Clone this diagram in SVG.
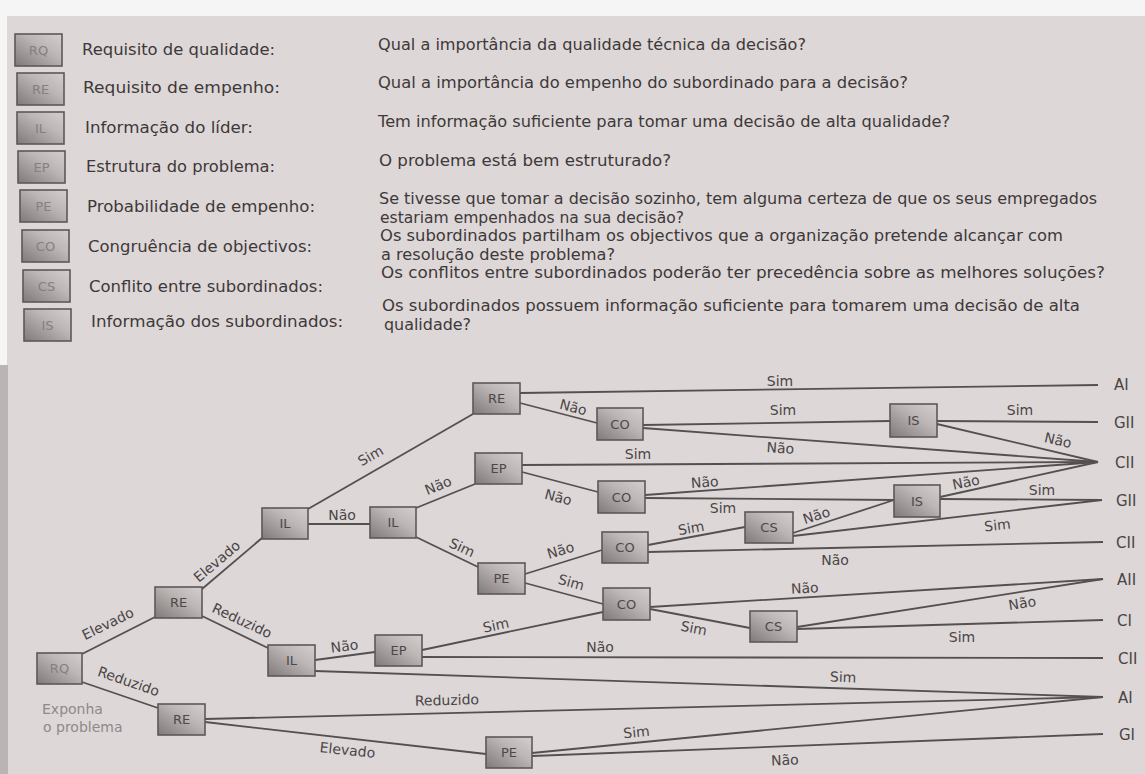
<svg xmlns="http://www.w3.org/2000/svg" width="1145" height="774" viewBox="0 0 1145 774">
<defs>
<linearGradient id="boxg" x1="0" y1="1" x2="1" y2="0">
<stop offset="0" stop-color="#7f7979"/>
<stop offset="0.6" stop-color="#bcb6b6"/>
<stop offset="1" stop-color="#d4cece"/>
</linearGradient>
<style>
.bx{fill:url(#boxg);stroke:#5e5858;stroke-width:1.6}
.bt{font-family:"DejaVu Sans","Liberation Sans",sans-serif;font-size:13px;fill:#4e4848;text-anchor:middle}
.lbt{font-family:"DejaVu Sans","Liberation Sans",sans-serif;font-size:13px;fill:#868080;text-anchor:middle}
.lg{font-family:"DejaVu Sans","Liberation Sans",sans-serif;font-size:15px;fill:#3e3939}
.ln{stroke:#555050;stroke-width:1.8;fill:none}
.el{font-family:"DejaVu Sans","Liberation Sans",sans-serif;font-size:14px;fill:#4a4545;text-anchor:middle}
.oc{font-family:"DejaVu Sans","Liberation Sans",sans-serif;font-size:15px;fill:#4a4545}
.fa{font-family:"DejaVu Sans","Liberation Sans",sans-serif;font-size:14px;fill:#8f8989}
</style>
</defs>
<rect x="0" y="0" width="1145" height="774" fill="#ddd7d8"/>
<rect x="0" y="0" width="1145" height="16" fill="#f6f5f5"/>
<rect x="0" y="0" width="7" height="365" fill="#f6f5f5"/>
<rect x="0" y="365" width="8" height="409" fill="#bab4b5"/>

<g id="legend">
<g id="leg-RQ"><rect class="bx" x="15" y="34" width="47" height="32"/><text class="lbt" x="38.5" y="55">RQ</text></g>
<g id="leg-RE"><rect class="bx" x="17" y="73" width="47" height="32"/><text class="lbt" x="40.5" y="94">RE</text></g>
<g id="leg-IL"><rect class="bx" x="17" y="112" width="47" height="32"/><text class="lbt" x="40.5" y="133">IL</text></g>
<g id="leg-EP"><rect class="bx" x="18" y="151" width="47" height="32"/><text class="lbt" x="41.5" y="172">EP</text></g>
<g id="leg-PE"><rect class="bx" x="20" y="190" width="47" height="32"/><text class="lbt" x="43.5" y="211">PE</text></g>
<g id="leg-CO"><rect class="bx" x="22" y="230" width="47" height="32"/><text class="lbt" x="45.5" y="251">CO</text></g>
<g id="leg-CS"><rect class="bx" x="23" y="270" width="47" height="32"/><text class="lbt" x="46.5" y="291">CS</text></g>
<g id="leg-IS"><rect class="bx" x="24" y="309" width="47" height="32"/><text class="lbt" x="47.5" y="330">IS</text></g>

<text class="lg" x="82" y="55" textLength="193" lengthAdjust="spacingAndGlyphs">Requisito de qualidade:</text>
<text class="lg" x="83" y="93" textLength="197" lengthAdjust="spacingAndGlyphs">Requisito de empenho:</text>
<text class="lg" x="85" y="133" textLength="168" lengthAdjust="spacingAndGlyphs">Informação do líder:</text>
<text class="lg" x="86" y="172" textLength="189" lengthAdjust="spacingAndGlyphs">Estrutura do problema:</text>
<text class="lg" x="87" y="212" textLength="228" lengthAdjust="spacingAndGlyphs">Probabilidade de empenho:</text>
<text class="lg" x="88" y="252" textLength="224" lengthAdjust="spacingAndGlyphs">Congruência de objectivos:</text>
<text class="lg" x="89" y="292" textLength="234" lengthAdjust="spacingAndGlyphs">Conflito entre subordinados:</text>
<text class="lg" x="91" y="327" textLength="252" lengthAdjust="spacingAndGlyphs">Informação dos subordinados:</text>

<text class="lg" x="378" y="50" textLength="428" lengthAdjust="spacingAndGlyphs">Qual a importância da qualidade técnica da decisão?</text>
<text class="lg" x="378" y="88" textLength="530" lengthAdjust="spacingAndGlyphs">Qual a importância do empenho do subordinado para a decisão?</text>
<text class="lg" x="378" y="127" textLength="572" lengthAdjust="spacingAndGlyphs">Tem informação suficiente para tomar uma decisão de alta qualidade?</text>
<text class="lg" x="379" y="166" textLength="292" lengthAdjust="spacingAndGlyphs">O problema está bem estruturado?</text>
<text class="lg" x="379" y="204" textLength="718" lengthAdjust="spacingAndGlyphs">Se tivesse que tomar a decisão sozinho, tem alguma certeza de que os seus empregados</text>
<text class="lg" x="380" y="222.5" textLength="304" lengthAdjust="spacingAndGlyphs">estariam empenhados na sua decisão?</text>
<text class="lg" x="380" y="241" textLength="683" lengthAdjust="spacingAndGlyphs">Os subordinados partilham os objectivos que a organização pretende alcançar com</text>
<text class="lg" x="381" y="259.5" textLength="234" lengthAdjust="spacingAndGlyphs">a resolução deste problema?</text>
<text class="lg" x="381" y="278" textLength="724" lengthAdjust="spacingAndGlyphs">Os conflitos entre subordinados poderão ter precedência sobre as melhores soluções?</text>
<text class="lg" x="382" y="311" textLength="698" lengthAdjust="spacingAndGlyphs">Os subordinados possuem informação suficiente para tomarem uma decisão de alta</text>
<text class="lg" x="384" y="329.5" textLength="87" lengthAdjust="spacingAndGlyphs">qualidade?</text>
</g>

<g id="connectors">
<line class="ln" x1="82" y1="654" x2="155" y2="617"/>
<line class="ln" x1="82" y1="682" x2="158" y2="708"/>
<line class="ln" x1="202" y1="589" x2="262" y2="538"/>
<line class="ln" x1="202" y1="616" x2="268" y2="648"/>
<line class="ln" x1="308" y1="509" x2="473" y2="414"/>
<line class="ln" x1="308" y1="524" x2="370" y2="524"/>
<line class="ln" x1="416" y1="508" x2="475" y2="484"/>
<line class="ln" x1="416" y1="537" x2="478" y2="567"/>
<line class="ln" x1="315" y1="660" x2="375" y2="652"/>
<line class="ln" x1="315" y1="671" x2="1103" y2="697"/>
<line class="ln" x1="205" y1="719" x2="1103" y2="697"/>
<line class="ln" x1="205" y1="722" x2="486" y2="754"/>
<line class="ln" x1="532" y1="753" x2="1103" y2="697"/>
<line class="ln" x1="532" y1="756" x2="1103" y2="734"/>
<line class="ln" x1="422" y1="650" x2="603" y2="612"/>
<line class="ln" x1="422" y1="657" x2="1103" y2="658"/>
<line class="ln" x1="520" y1="393" x2="1098" y2="385"/>
<line class="ln" x1="520" y1="403" x2="597" y2="423"/>
<line class="ln" x1="643" y1="425" x2="890" y2="421"/>
<line class="ln" x1="643" y1="428" x2="1098" y2="462"/>
<line class="ln" x1="937" y1="421" x2="1098" y2="422"/>
<line class="ln" x1="937" y1="424" x2="1098" y2="462"/>
<line class="ln" x1="522" y1="465" x2="1098" y2="462"/>
<line class="ln" x1="522" y1="472" x2="598" y2="492"/>
<line class="ln" x1="645" y1="495" x2="1098" y2="462"/>
<line class="ln" x1="645" y1="498" x2="894" y2="500"/>
<line class="ln" x1="525" y1="574" x2="602" y2="550"/>
<line class="ln" x1="525" y1="583" x2="603" y2="604"/>
<line class="ln" x1="648" y1="545" x2="745" y2="527"/>
<line class="ln" x1="648" y1="552" x2="1103" y2="542"/>
<line class="ln" x1="793" y1="533" x2="894" y2="500"/>
<line class="ln" x1="793" y1="536" x2="1102" y2="500"/>
<line class="ln" x1="940" y1="497" x2="1098" y2="462"/>
<line class="ln" x1="940" y1="499" x2="1102" y2="500"/>
<line class="ln" x1="650" y1="607" x2="1103" y2="579"/>
<line class="ln" x1="650" y1="609" x2="750" y2="628"/>
<line class="ln" x1="797" y1="627" x2="1103" y2="579"/>
<line class="ln" x1="797" y1="629" x2="1103" y2="620"/>

<text class="el" transform="translate(110,628) rotate(-26)">Elevado</text>
<text class="el" transform="translate(127,686) rotate(19)">Reduzido</text>
<text class="el" transform="translate(220,565) rotate(-40)">Elevado</text>
<text class="el" transform="translate(240,625) rotate(25)">Reduzido</text>
<text class="el" transform="translate(373,460) rotate(-30)">Sim</text>
<text class="el" x="342" y="520">Não</text>
<text class="el" transform="translate(440,490) rotate(-22)">Não</text>
<text class="el" transform="translate(460,552) rotate(25)">Sim</text>
<text class="el" transform="translate(345,651) rotate(-7)">Não</text>
<text class="el" transform="translate(843,682) rotate(2)">Sim</text>
<text class="el" transform="translate(447,705) rotate(-1.5)">Reduzido</text>
<text class="el" transform="translate(347,755) rotate(6)">Elevado</text>
<text class="el" transform="translate(637,737) rotate(-5.6)">Sim</text>
<text class="el" transform="translate(785,765) rotate(-2)">Não</text>
<text class="el" transform="translate(497,630) rotate(-12)">Sim</text>
<text class="el" x="600" y="652">Não</text>
<text class="el" x="780" y="386">Sim</text>
<text class="el" transform="translate(572,412) rotate(15)">Não</text>
<text class="el" x="783" y="415">Sim</text>
<text class="el" transform="translate(780,453) rotate(4)">Não</text>
<text class="el" x="1020" y="415">Sim</text>
<text class="el" transform="translate(1057,445) rotate(13)">Não</text>
<text class="el" x="638" y="459">Sim</text>
<text class="el" transform="translate(557,502) rotate(15)">Não</text>
<text class="el" transform="translate(705,487) rotate(-4)">Não</text>
<text class="el" x="723" y="513">Sim</text>
<text class="el" transform="translate(562,555) rotate(-17)">Não</text>
<text class="el" transform="translate(570,587) rotate(15)">Sim</text>
<text class="el" transform="translate(692,533) rotate(-10)">Sim</text>
<text class="el" x="835" y="565">Não</text>
<text class="el" transform="translate(818,520) rotate(-18)">Não</text>
<text class="el" transform="translate(998,530) rotate(-6)">Sim</text>
<text class="el" transform="translate(967,487) rotate(-12)">Não</text>
<text class="el" x="1042" y="495">Sim</text>
<text class="el" transform="translate(805,593) rotate(-3)">Não</text>
<text class="el" transform="translate(693,633) rotate(11)">Sim</text>
<text class="el" transform="translate(1023,608) rotate(-9)">Não</text>
<text class="el" x="962" y="642">Sim</text>
</g>

<g id="outcomes">
<text class="oc" x="1114" y="390">AI</text>
<text class="oc" x="1114" y="428">GII</text>
<text class="oc" x="1115" y="468">CII</text>
<text class="oc" x="1116" y="506">GII</text>
<text class="oc" x="1116" y="548">CII</text>
<text class="oc" x="1117" y="585">AII</text>
<text class="oc" x="1117" y="626">CI</text>
<text class="oc" x="1118" y="664">CII</text>
<text class="oc" x="1118" y="703">AI</text>
<text class="oc" x="1119" y="740">GI</text>
</g>

<g id="node-RQ"><rect class="bx" x="37" y="653" width="45" height="31"/><text class="lbt" x="59.5" y="673">RQ</text></g>
<text class="fa" x="42" y="714">Exponha</text>
<text class="fa" x="43" y="732">o problema</text>
<g id="node-RE1"><rect class="bx" x="155" y="587" width="47" height="31"/><text class="bt" x="178.5" y="607">RE</text></g>
<g id="node-RE2"><rect class="bx" x="158" y="704" width="47" height="31"/><text class="bt" x="181.5" y="724">RE</text></g>
<g id="node-IL1"><rect class="bx" x="262" y="508" width="46" height="31"/><text class="bt" x="285" y="528">IL</text></g>
<g id="node-IL2"><rect class="bx" x="370" y="507" width="46" height="31"/><text class="bt" x="393" y="527">IL</text></g>
<g id="node-IL3"><rect class="bx" x="268" y="645" width="47" height="31"/><text class="bt" x="291.5" y="665">IL</text></g>
<g id="node-EP2"><rect class="bx" x="375" y="635" width="47" height="31"/><text class="bt" x="398.5" y="655">EP</text></g>
<g id="node-RE3"><rect class="bx" x="473" y="383" width="47" height="31"/><text class="bt" x="496.5" y="403">RE</text></g>
<g id="node-EP1"><rect class="bx" x="475" y="453" width="47" height="31"/><text class="bt" x="498.5" y="473">EP</text></g>
<g id="node-PE1"><rect class="bx" x="478" y="563" width="47" height="31"/><text class="bt" x="501.5" y="583">PE</text></g>
<g id="node-PE2"><rect class="bx" x="486" y="737" width="46" height="31"/><text class="bt" x="509" y="757">PE</text></g>
<g id="node-CO1"><rect class="bx" x="597" y="408" width="46" height="32"/><text class="bt" x="620" y="429">CO</text></g>
<g id="node-CO2"><rect class="bx" x="598" y="481" width="47" height="32"/><text class="bt" x="621.5" y="502">CO</text></g>
<g id="node-CO3"><rect class="bx" x="602" y="532" width="46" height="31"/><text class="bt" x="625" y="552">CO</text></g>
<g id="node-CO4"><rect class="bx" x="603" y="588" width="47" height="32"/><text class="bt" x="626.5" y="609">CO</text></g>
<g id="node-CS1"><rect class="bx" x="745" y="512" width="48" height="31"/><text class="bt" x="769" y="532">CS</text></g>
<g id="node-CS2"><rect class="bx" x="750" y="611" width="47" height="31"/><text class="bt" x="773.5" y="631">CS</text></g>
<g id="node-IS1"><rect class="bx" x="890" y="404" width="47" height="33"/><text class="bt" x="913.5" y="425">IS</text></g>
<g id="node-IS2"><rect class="bx" x="894" y="485" width="46" height="32"/><text class="bt" x="917" y="506">IS</text></g>
</svg>
